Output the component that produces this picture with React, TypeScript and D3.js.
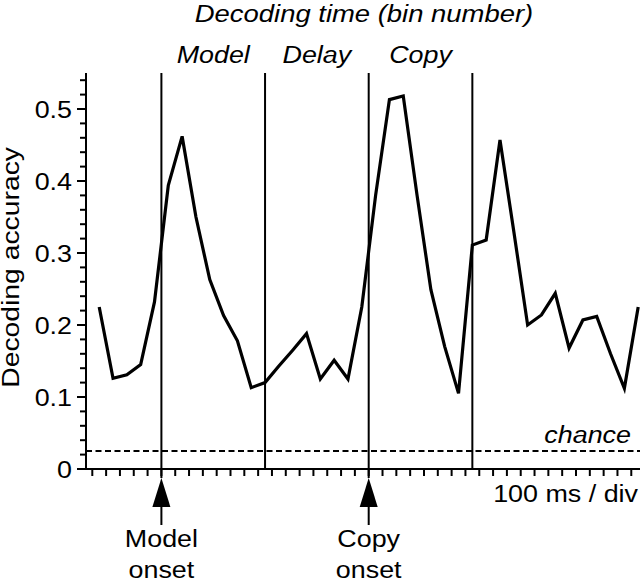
import React from "react";
import * as d3 from "d3";

// ---- data ----
const accuracy = [
  0.225, 0.126, 0.131, 0.145, 0.232, 0.394, 0.462, 0.35, 0.263, 0.213,
  0.178, 0.113, 0.12, 0.143, 0.165, 0.188, 0.125, 0.151, 0.125, 0.225,
  0.38, 0.513, 0.518, 0.38, 0.249, 0.17, 0.105, 0.311, 0.318, 0.457,
  0.33, 0.2, 0.214, 0.244, 0.168, 0.207, 0.212, 0.16, 0.112, 0.225,
];
const yTicks = [0, 0.1, 0.2, 0.3, 0.4, 0.5];
const yTickLabels = ["0", "0.1", "0.2", "0.3", "0.4", "0.5"];
const periodNames = ["Model", "Delay", "Copy"];
const periodBounds = [5, 12.5, 20, 27.5]; // bin edges
const onsetBins = [5, 20];
const onsetNames = [["Model", "onset"], ["Copy", "onset"]];
const chance = 0.025;
const nBins = 40;

const FONT = "'Liberation Sans', Arial, Helvetica, sans-serif";
const SX = 1.12;

function Txt({ x, y, anchor = "middle", italic = false, size = 24, rotate = 0, sx = SX, children }: any) {
  return (
    <text
      transform={`translate(${x},${y})${rotate ? ` rotate(${rotate})` : ""} scale(${sx},1)`}
      textAnchor={anchor}
      fontFamily={FONT}
      fontSize={size}
      fontStyle={italic ? "italic" : "normal"}
      fill="#000"
    >
      {children}
    </text>
  );
}

export default function App() {
  const W = 640, H = 581;
  const x = d3.scaleLinear().domain([0, nBins]).range([92.3, 92.3 + nBins * 13.82]);
  const y = d3.scaleLinear().domain([0, 0.55]).range([469, 73]);
  const axisLeft = 86;
  const axisRight = 640;
  const line = d3.line<number>().x((_, i) => x(i + 0.5)).y((d) => y(d));
  const minorY = d3.range(0, 0.5501, 0.02).filter((v) => Math.abs(v * 10 - Math.round(v * 10)) > 1e-6);
  const xTicks = d3.range(0, nBins);

  return (
    <svg width={W} height={H} style={{ position: "fixed", left: 0, top: 0, background: "#fff" }}>
      <rect width={W} height={H} fill="#fff" />
      {/* title */}
      <Txt x={364} y={22} italic size={24.5}>Decoding time (bin number)</Txt>
      {/* period labels */}
      {periodNames.map((n, i) => (
        <Txt key={n} x={(x(periodBounds[i]) + x(periodBounds[i + 1])) / 2} y={63} italic>
          {n}
        </Txt>
      ))}
      {/* y axis */}
      <line x1={axisLeft} x2={axisLeft} y1={y(0.55)} y2={y(0) + 1} stroke="#000" strokeWidth={2} />
      {yTicks.map((t, i) => (
        <g key={t}>
          <line x1={axisLeft - 9} x2={axisLeft} y1={y(t)} y2={y(t)} stroke="#000" strokeWidth={2} />
          <Txt x={72} y={y(t) + 8.5} anchor="end">{yTickLabels[i]}</Txt>
        </g>
      ))}
      {minorY.map((t) => (
        <line key={t} x1={axisLeft - 6} x2={axisLeft} y1={y(t)} y2={y(t)} stroke="#000" strokeWidth={2} />
      ))}
      <Txt x={18.5} y={y(0.28)} rotate={-90} sx={1.18}>Decoding accuracy</Txt>
      {/* x axis */}
      <line x1={axisLeft - 1} x2={axisRight} y1={y(0)} y2={y(0)} stroke="#000" strokeWidth={2} />
      {xTicks.map((t) => (
        <line key={t} x1={x(t)} x2={x(t)} y1={y(0)} y2={y(0) + 7} stroke="#000" strokeWidth={2} />
      ))}
      <Txt x={638} y={502} anchor="end">100 ms / div</Txt>
      {/* chance */}
      <line x1={axisLeft} x2={axisRight} y1={y(chance)} y2={y(chance)} stroke="#000" strokeWidth={2} strokeDasharray="6,3.5" />
      <Txt x={631} y={443} anchor="end" italic>chance</Txt>
      {/* period boundaries */}
      {periodBounds.map((b) => (
        <line key={b} x1={x(b)} x2={x(b)} y1={y(0.55)} y2={onsetBins.includes(b) ? 478 : y(0)} stroke="#000" strokeWidth={2} />
      ))}
      {/* onset arrows */}
      {onsetBins.map((b, i) => (
        <g key={b}>
          <path d={`M${x(b)},478 L${x(b) + 9},507 L${x(b) - 9},507 Z`} fill="#000" />
          <line x1={x(b)} x2={x(b)} y1={505} y2={525} stroke="#000" strokeWidth={2} />
          <Txt x={x(b)} y={547}>{onsetNames[i][0]}</Txt>
          <Txt x={x(b)} y={578}>{onsetNames[i][1]}</Txt>
        </g>
      ))}
      {/* data */}
      <path d={line(accuracy) || ""} fill="none" stroke="#000" strokeWidth={3.2} strokeLinejoin="miter" />
    </svg>
  );
}
